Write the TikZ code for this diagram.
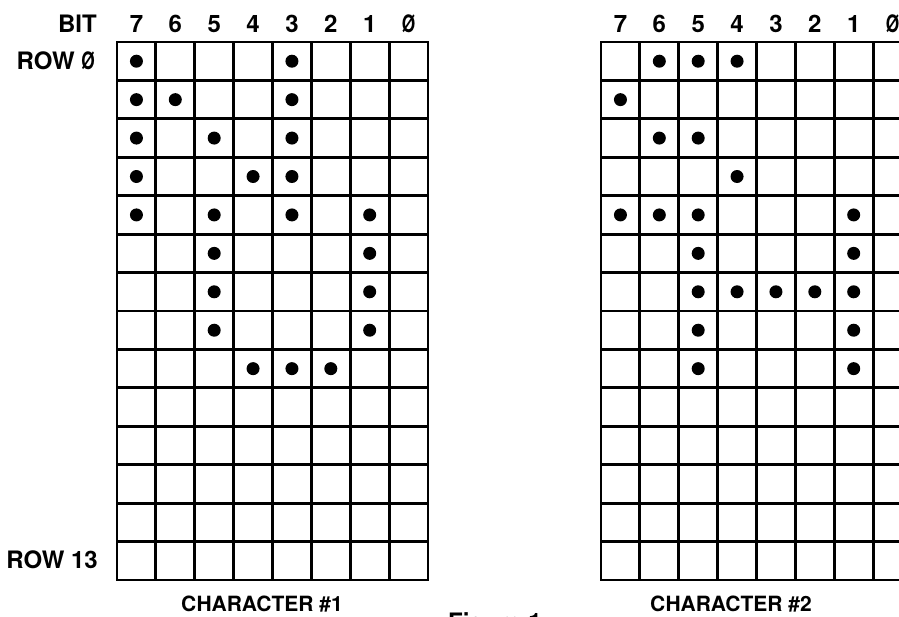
\documentclass[tikz,border=0pt]{standalone}
\usepackage{fontspec}
\setmainfont{TeX Gyre Heros}
\newcommand\slz{\scalebox{0.72}[1]{Ø}}
\begin{document}
\begin{tikzpicture}[x=1pt,y=-1pt,
  gridline/.style={line width=2.8pt, line cap=rect},
  dot/.style={fill=black},
  lbl/.style={font=\fontsize{24}{24}\selectfont\bfseries, inner sep=0pt},
  captxt/.style={font=\fontsize{21}{21}\selectfont\bfseries, inner sep=0pt},
]
\useasboundingbox (0,0) rectangle (899,617);
\clip (0,0) rectangle (899,617);
\def\cw{38.875}
\def\rh{38.43}
% ---- grids
\foreach \gx in {117,601}{
  \foreach \i in {0,...,8}
    \draw[gridline] ({\gx+\i*\cw},42) -- ({\gx+\i*\cw},580);
  \foreach \j in {0,...,14}
    \draw[gridline] (\gx,{42+\j*\rh}) -- ({\gx+8*\cw},{42+\j*\rh});
  \foreach \b [count=\k from 0] in {7,6,5,4,3,2,1,\slz}
    \node[lbl] (c\gx-\k) at ({\gx+(\k+0.5)*\cw},24) {\b};
}
% ---- row / bit labels
\node[lbl, anchor=east] (bit) at (97,24) {BIT};
\node[lbl, anchor=east] (row0) at (95,61) {ROW \slz};
\node[lbl, anchor=east] (row13) at (98,560) {ROW 13};
% ---- captions
\node[captxt] (ch1) at (262,604) {CHARACTER \#1};
\node[captxt] (ch2) at (731,604) {CHARACTER \#2};
\node[lbl, anchor=north west] (fig) at (448,612) {Figure 1};
% ---- dots, character 1 (bit/row)
\foreach \b/\r in {7/0,3/0, 7/1,6/1,3/1, 7/2,5/2,3/2, 7/3,4/3,3/3,
                   7/4,5/4,3/4,1/4, 5/5,1/5, 5/6,1/6, 5/7,1/7, 4/8,3/8,2/8}
  \fill[dot] ({117+(7-\b+0.5)*\cw},{42+(\r+0.5)*\rh}) circle (6.5);
% ---- dots, character 2
\foreach \b/\r in {6/0,5/0,4/0, 7/1, 6/2,5/2, 4/3,
                   7/4,6/4,5/4,1/4, 5/5,1/5, 5/6,4/6,3/6,2/6,1/6, 5/7,1/7, 5/8,1/8}
  \fill[dot] ({601+(7-\b+0.5)*\cw},{42+(\r+0.5)*\rh}) circle (6.5);
\end{tikzpicture}
\end{document}
